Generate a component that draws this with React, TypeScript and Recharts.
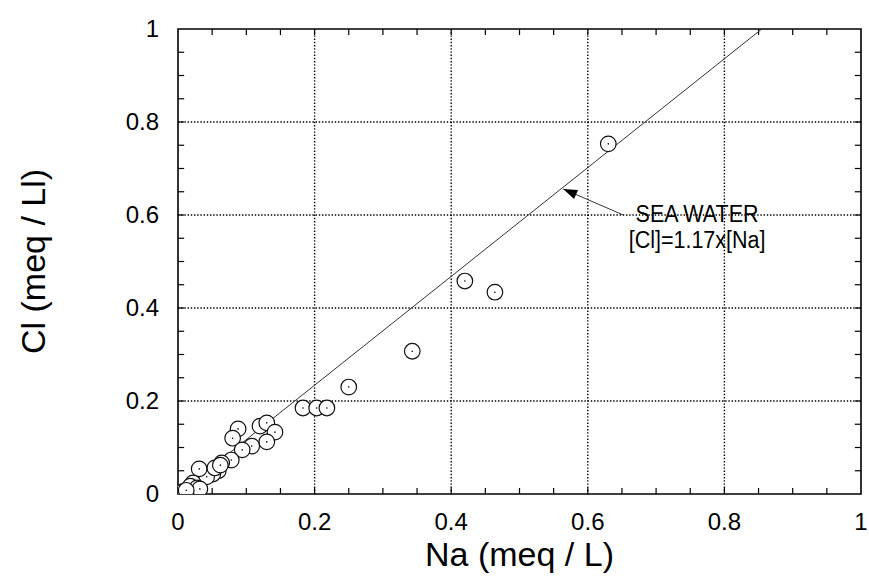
import React from "react";
import {
  ScatterChart,
  Scatter,
  XAxis,
  YAxis,
  CartesianGrid,
  ReferenceLine,
  ReferenceDot,
  ReferenceArea,
} from "recharts";

// Na (meq/L) vs Cl (meq/L) samples
const NA = [
  0.63, 0.42, 0.464, 0.343, 0.25, 0.183, 0.203, 0.218, 0.12, 0.13, 0.142,
  0.13, 0.088, 0.08, 0.108, 0.094, 0.078, 0.064, 0.059, 0.051, 0.042, 0.031,
  0.022, 0.018, 0.007, 0.028, 0.032, 0.054, 0.062, 0.012,
];
const CL = [
  0.753, 0.458, 0.434, 0.307, 0.23, 0.185, 0.185, 0.185, 0.146, 0.153, 0.133,
  0.112, 0.14, 0.12, 0.103, 0.095, 0.073, 0.067, 0.05, 0.043, 0.037, 0.054,
  0.024, 0.017, 0.005, 0.013, 0.011, 0.056, 0.062, 0.008,
];

const SEA_WATER_RATIO = 1.17;
const MAJOR_TICKS = [0, 0.2, 0.4, 0.6, 0.8, 1];
const MINOR_TICKS = [
  0.05, 0.1, 0.15, 0.25, 0.3, 0.35, 0.45, 0.5, 0.55, 0.65, 0.7, 0.75, 0.85,
  0.9, 0.95,
];
const GRID_VALUES = [0.2, 0.4, 0.6, 0.8];

const ARROW_TIP = { x: 0.564, y: 0.656 };
const ARROW_TAIL = { x: 0.652, y: 0.6 };
const NOTE_AT = { x: 0.76, y: 0.6 };
const NOTE_LINES = ["SEA WATER", "[Cl]=1.17x[Na]"];

const FONT = "'Liberation Sans', Arial, Helvetica, sans-serif";

const points = NA.map((na, i) => ({ na, cl: CL[i] }));

const fmt = (v: number) => (v === 0 || v === 1 ? String(v) : v.toFixed(1));

// inward tick length, in axis units (about 6px on each side)
const TICK_X = 0.009;
const TICK_Y = 0.013;

function BottomTick({ x, y, payload }: any) {
  return (
    <text x={x} y={y + 36} textAnchor="middle" fontSize={24} fontFamily={FONT} fill="#000">
      {fmt(payload.value)}
    </text>
  );
}

function LeftTick({ x, y, payload }: any) {
  return (
    <text x={x - 19} y={y + 8} textAnchor="end" fontSize={24} fontFamily={FONT} fill="#000">
      {fmt(payload.value)}
    </text>
  );
}

function Marker({ cx, cy }: any) {
  return (
    <g>
      <circle cx={cx} cy={cy} r={7.8} fill="#fff" stroke="#111" strokeWidth={1.2} />
      <circle cx={cx} cy={cy} r={0.8} fill="#000" />
    </g>
  );
}

function ArrowHead({ cx, cy }: any) {
  // arrow points from the label (lower right) up-left toward the line
  const ang = Math.atan2(-26, -60);
  const len = 14;
  const half = 5;
  const bx = cx - len * Math.cos(ang);
  const by = cy - len * Math.sin(ang);
  const px = -Math.sin(ang) * half;
  const py = Math.cos(ang) * half;
  return (
    <polygon
      points={`${cx},${cy} ${bx + px},${by + py} ${bx - px},${by - py}`}
      fill="#000"
    />
  );
}

function Note({ cx, cy }: any) {
  return (
    <g transform={`translate(${cx}, ${cy}) scale(1, 1.15)`}>
      <text textAnchor="middle" fontSize={21.5} fontFamily={FONT} fill="#000">
        <tspan x={0} y={6}>{NOTE_LINES[0]}</tspan>
        <tspan x={0} y={29}>{NOTE_LINES[1]}</tspan>
      </text>
    </g>
  );
}

export default function App() {
  const plotLeft = 178;
  const plotTop = 29;
  const plotRight = 861;
  const plotBottom = 494;
  const tickStyle = { stroke: "#000", strokeWidth: 1.2 };
  const allTicks = [...MINOR_TICKS, ...GRID_VALUES];
  return (
    <div style={{ position: "absolute", left: 0, top: 0, background: "#fff" }}>
      <ScatterChart
        width={869}
        height={578}
        margin={{ top: plotTop, right: 869 - plotRight, bottom: 0, left: 0 }}
      >
        <CartesianGrid
          horizontalValues={GRID_VALUES}
          verticalValues={GRID_VALUES}
          stroke="#000"
          strokeWidth={1.4}
          strokeDasharray="1.4 1.8"
        />
        <XAxis
          type="number"
          dataKey="na"
          domain={[0, 1]}
          ticks={MAJOR_TICKS}
          interval={0}
          height={578 - plotBottom}
          tickSize={0}
          tickMargin={0}
          tickLine={false}
          tick={<BottomTick />}
          axisLine={false}
          allowDataOverflow
        />
        <YAxis
          type="number"
          dataKey="cl"
          domain={[0, 1]}
          ticks={MAJOR_TICKS}
          interval={0}
          width={plotLeft}
          tickSize={0}
          tickMargin={0}
          tickLine={false}
          tick={<LeftTick />}
          axisLine={false}
          allowDataOverflow
        />
        {allTicks.map((v) => (
          <ReferenceLine key={`b${v}`} segment={[{ x: v, y: 0 }, { x: v, y: TICK_Y }]} {...tickStyle} />
        ))}
        {allTicks.map((v) => (
          <ReferenceLine key={`t${v}`} segment={[{ x: v, y: 1 }, { x: v, y: 1 - TICK_Y }]} {...tickStyle} />
        ))}
        {allTicks.map((v) => (
          <ReferenceLine key={`l${v}`} segment={[{ x: 0, y: v }, { x: TICK_X, y: v }]} {...tickStyle} />
        ))}
        {allTicks.map((v) => (
          <ReferenceLine key={`r${v}`} segment={[{ x: 1, y: v }, { x: 1 - TICK_X, y: v }]} {...tickStyle} />
        ))}
        <ReferenceArea
          x1={0}
          x2={1}
          y1={0}
          y2={1}
          fill="none"
          fillOpacity={0}
          stroke="#000"
          strokeWidth={1.6}
        />
        <ReferenceLine
          segment={[
            { x: 0, y: 0 },
            { x: 1 / SEA_WATER_RATIO, y: 1 },
          ]}
          stroke="#333"
          strokeWidth={1}
        />
        <ReferenceLine segment={[ARROW_TAIL, ARROW_TIP]} stroke="#333" strokeWidth={1} />
        <ReferenceDot x={ARROW_TIP.x} y={ARROW_TIP.y} r={0} shape={<ArrowHead />} />
        <ReferenceDot x={NOTE_AT.x} y={NOTE_AT.y} r={0} shape={<Note />} />
        <Scatter data={points} shape={<Marker />} isAnimationActive={false} />
        <text
          x={(plotLeft + plotRight) / 2}
          y={566}
          textAnchor="middle"
          fontSize={34}
          fontFamily={FONT}
          fill="#000"
        >
          Na (meq / L)
        </text>
        <text
          transform={`translate(45, ${(plotTop + plotBottom) / 2}) rotate(-90)`}
          textAnchor="middle"
          fontSize={34}
          fontFamily={FONT}
          fill="#000"
        >
          Cl (meq / Ll)
        </text>
      </ScatterChart>
    </div>
  );
}
